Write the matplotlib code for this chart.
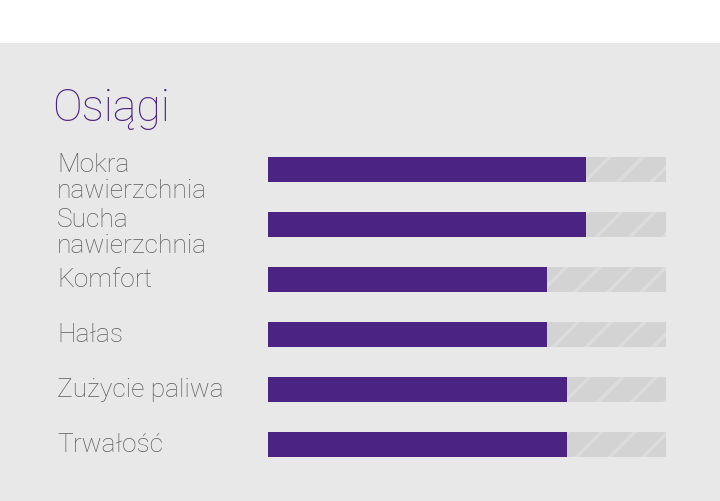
import matplotlib.pyplot as plt
import matplotlib.transforms as mtransforms
from matplotlib.patches import Rectangle

labels = ['Mokra\nnawierzchnia', 'Sucha\nnawierzchnia', 'Komfort',
          'Hałas', 'Zużycie paliwa', 'Trwałość']
values = [8, 8, 7, 7, 7.5, 7.5]
max_value = 10
title = 'Osiągi'

purple = '#4a2383'
track = '#d3d3d3'
stripe = '#dcdcdc'
bg = '#e8e8e8'
label_color = '#5e5e5e'

plt.rcParams['font.family'] = ['Roboto', 'DejaVu Sans']
plt.rcParams['hatch.linewidth'] = 2.5

W, H = 720, 502
fig = plt.figure(figsize=(W / 100, H / 100), dpi=100)
fig.patch.set_facecolor('white')
# grey panel below the white strip
fig.patches.append(Rectangle((0, 0), 1, (H - 44) / H, transform=fig.transFigure,
                             facecolor=bg, edgecolor='none', zorder=-5))

row = 55.0
bar_h = 25.0 / row
top, bottom = 170 - row / 2, 445 + row / 2
ax = fig.add_axes([268 / W, (H - bottom) / H, 398 / W, (bottom - top) / H])
ax.set_facecolor('none')

y = list(range(len(labels)))
ax.barh(y, [max_value] * len(y), height=bar_h, color=track, edgecolor=stripe,
        hatch='/', linewidth=0)
ax.barh(y, values, height=bar_h, color=purple, linewidth=0)
ax.set_xlim(0, max_value)
ax.set_ylim(len(labels) - 0.5, -0.5)
ax.axis('off')

# labels: first baseline ~20px under the bar top, lines ~21px apart
trans = mtransforms.blended_transform_factory(fig.transFigure, ax.transData)
for i, lab in enumerate(labels):
    n = lab.count('\n')
    off = mtransforms.ScaledTranslation(0, -(20 + 21 * n) / 100, fig.dpi_scale_trans)
    ax.text(57 / W, i - bar_h / 2, lab, transform=trans + off,
            ha='left', va='baseline', fontsize=19, fontweight='light',
            color=label_color, linespacing=1.12)

fig.text(52 / W, (H - 121.5) / H, title, ha='left', va='baseline',
         fontsize=32, fontweight='light', color=purple)

fig.savefig('out.png', dpi=100)
